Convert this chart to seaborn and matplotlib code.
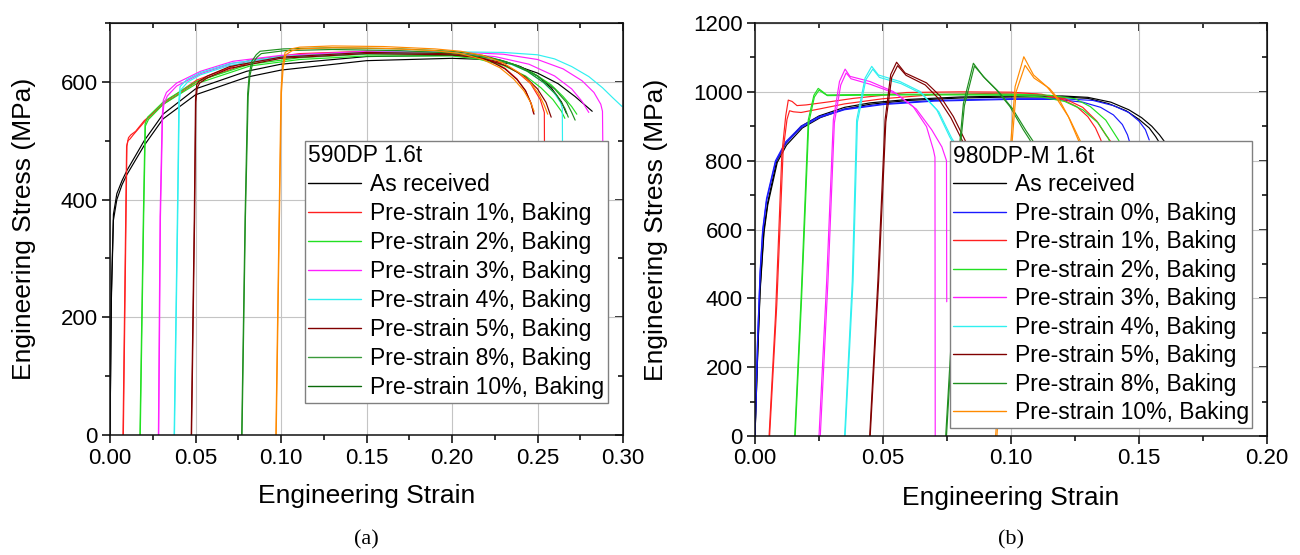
import numpy as np
import pandas as pd
import matplotlib
matplotlib.use("Agg")
import matplotlib.pyplot as plt
import seaborn as sns
from matplotlib.lines import Line2D
from matplotlib.ticker import MultipleLocator, FormatStrFormatter

# ---------------- Panel (a): 590DP 1.6t ----------------
A_TITLE = "590DP 1.6t"
A_LABELS = ["As received", "Pre-strain 1%, Baking", "Pre-strain 2%, Baking",
            "Pre-strain 3%, Baking", "Pre-strain 4%, Baking", "Pre-strain 5%, Baking",
            "Pre-strain 8%, Baking", "Pre-strain 10%, Baking"]

A_RECV_X = [[0, 0.0008, 0.002, 0.004, 0.007, 0.010, 0.020, 0.031, 0.050, 0.080, 0.100, 0.150, 0.200, 0.215, 0.228, 0.240, 0.250, 0.258, 0.264, 0.267],
            [0, 0.0008, 0.002, 0.004, 0.007, 0.010, 0.020, 0.031, 0.050, 0.080, 0.100, 0.150, 0.200, 0.220, 0.235, 0.250, 0.262, 0.272, 0.278, 0.282]]
A_RECV_Y = [[0, 240, 375, 410, 432, 450, 500, 545, 588, 618, 630, 643, 645, 643, 637, 626, 610, 590, 566, 546],
            [0, 230, 365, 400, 425, 443, 492, 537, 578, 608, 620, 636, 640, 638, 630, 615, 597, 575, 560, 550]]

A_PS1_X = [[0.0076, 0.0097, 0.0105, 0.0117, 0.0136, 0.0195, 0.0312, 0.0507, 0.0819, 0.111, 0.150, 0.200, 0.212, 0.222, 0.231, 0.238, 0.243, 0.2465, 0.2477],
           [0.0078, 0.0099, 0.0108, 0.0122, 0.0150, 0.0200, 0.0312, 0.0507, 0.0819, 0.111, 0.150, 0.200, 0.215, 0.228, 0.238, 0.246, 0.2516, 0.2540, 0.2542]]
A_PS1_Y = [[0, 490, 500, 503, 510, 530, 564, 603, 637, 648, 652, 649, 645, 637, 623, 605, 585, 562, 546],
           [0, 492, 505, 510, 516, 534, 562, 600, 633, 645, 650, 647, 642, 632, 617, 597, 570, 548, 400]]

A_PS2_X = [[0.0175, 0.0195, 0.0205, 0.0220, 0.0312, 0.0507, 0.0819, 0.111, 0.150, 0.200, 0.220, 0.235, 0.248, 0.258, 0.265, 0.270, 0.273],
           [0.0177, 0.0197, 0.0207, 0.0225, 0.0312, 0.0507, 0.0819, 0.111, 0.150, 0.200, 0.215, 0.230, 0.243, 0.252, 0.259, 0.264, 0.266]]
A_PS2_Y = [[0, 371, 528, 540, 566, 601, 630, 641, 647, 647, 641, 631, 614, 595, 575, 558, 545],
           [0, 371, 525, 536, 562, 597, 627, 638, 644, 644, 639, 628, 610, 590, 570, 550, 538]]

A_PS3_X = [[0.0283, 0.0293, 0.0305, 0.0312, 0.0330, 0.0390, 0.0530, 0.0720, 0.100, 0.150, 0.200, 0.230, 0.250, 0.265, 0.276, 0.283, 0.2870, 0.2880, 0.2885],
           [0.0285, 0.0295, 0.0307, 0.0315, 0.0335, 0.0390, 0.0530, 0.0720, 0.100, 0.150, 0.200, 0.225, 0.245, 0.260, 0.270, 0.276, 0.280]]
A_PS3_Y = [[0, 371, 540, 569, 582, 598, 618, 635, 645, 652, 651, 647, 638, 622, 602, 582, 562, 550, 400],
           [0, 371, 535, 562, 576, 593, 614, 632, 642, 649, 648, 643, 630, 610, 588, 567, 548]]

A_PS4_X = [[0.0375, 0.0394, 0.0403, 0.0410, 0.0450, 0.0530, 0.0700, 0.100, 0.150, 0.200, 0.230, 0.250, 0.260, 0.270, 0.280, 0.288, 0.294, 0.2995],
           [0.0377, 0.0396, 0.0405, 0.0413, 0.0455, 0.0530, 0.0700, 0.100, 0.150, 0.200, 0.218, 0.232, 0.244, 0.253, 0.2595, 0.2635, 0.2645, 0.2648]]
A_PS4_Y = [[0, 371, 570, 592, 604, 616, 631, 643, 650, 651, 650, 646, 639, 626, 609, 590, 573, 558],
           [0, 371, 565, 586, 600, 612, 628, 641, 648, 648, 643, 633, 618, 600, 582, 565, 555, 400]]

A_PS5_X = [[0.0475, 0.0493, 0.0500, 0.0507, 0.0520, 0.0570, 0.0700, 0.100, 0.150, 0.200, 0.212, 0.222, 0.231, 0.238, 0.243, 0.246, 0.248],
           [0.0477, 0.0495, 0.0502, 0.0510, 0.0525, 0.0570, 0.0700, 0.100, 0.150, 0.200, 0.218, 0.232, 0.243, 0.250, 0.255, 0.258]]
A_PS5_Y = [[0, 371, 570, 595, 601, 610, 626, 642, 650, 648, 644, 636, 622, 604, 585, 565, 545],
           [0, 371, 566, 590, 598, 607, 623, 640, 648, 646, 640, 627, 608, 588, 565, 540]]

A_PS8_X = [[0.0770, 0.0790, 0.0805, 0.0815, 0.0829, 0.0855, 0.0878, 0.1014, 0.130, 0.170, 0.200, 0.218, 0.232, 0.244, 0.254, 0.261, 0.266, 0.268],
           [0.0772, 0.0792, 0.0808, 0.0818, 0.0833, 0.0860, 0.0885, 0.1020, 0.130, 0.170, 0.200, 0.222, 0.238, 0.250, 0.260, 0.267, 0.270, 0.272]]
A_PS8_Y = [[0, 371, 580, 615, 635, 646, 652, 656, 658, 656, 652, 645, 634, 618, 598, 578, 555, 540],
           [0, 371, 575, 610, 630, 642, 648, 653, 655, 653, 649, 641, 628, 610, 588, 565, 548, 535]]

A_PS10_X = [[0.0970, 0.0989, 0.1000, 0.1010, 0.1024, 0.1060, 0.1110, 0.130, 0.160, 0.190, 0.205, 0.218, 0.230, 0.239, 0.246, 0.251, 0.254, 0.256],
            [0.0972, 0.0991, 0.1002, 0.1013, 0.1028, 0.1065, 0.1115, 0.130, 0.160, 0.190, 0.205, 0.218, 0.228, 0.236, 0.242, 0.246, 0.248]]
A_PS10_Y = [[0, 371, 585, 630, 650, 656, 659, 661, 660, 656, 652, 645, 632, 616, 598, 578, 560, 545],
            [0, 371, 580, 625, 646, 653, 656, 658, 657, 653, 648, 638, 624, 605, 585, 565, 550]]

# ---------------- Panel (b): 980DP-M 1.6t ----------------
B_TITLE = "980DP-M 1.6t"
B_LABELS = ["As received", "Pre-strain 0%, Baking", "Pre-strain 1%, Baking",
            "Pre-strain 2%, Baking", "Pre-strain 3%, Baking", "Pre-strain 4%, Baking",
            "Pre-strain 5%, Baking", "Pre-strain 8%, Baking", "Pre-strain 10%, Baking"]

B_RECV_X = [[0, 0.001, 0.002, 0.0035, 0.005, 0.0085, 0.012, 0.018, 0.025, 0.035, 0.045, 0.060, 0.080, 0.100, 0.120, 0.130, 0.139, 0.146, 0.151, 0.155, 0.158, 0.160],
            [0, 0.001, 0.002, 0.0035, 0.005, 0.0087, 0.0123, 0.0185, 0.0255, 0.035, 0.045, 0.060, 0.080, 0.100, 0.120, 0.130, 0.138, 0.145, 0.150, 0.154, 0.1565, 0.158]]
B_RECV_Y = [[0, 230, 430, 600, 680, 800, 850, 900, 930, 955, 968, 978, 985, 988, 988, 984, 970, 948, 925, 900, 875, 855],
            [0, 225, 420, 590, 672, 795, 845, 895, 925, 950, 964, 975, 982, 985, 985, 981, 966, 945, 920, 895, 870, 852]]

B_PS0_X = [[0, 0.001, 0.002, 0.003, 0.0045, 0.008, 0.012, 0.018, 0.025, 0.035, 0.050, 0.070, 0.100, 0.120, 0.132, 0.140, 0.146, 0.150, 0.1525, 0.154],
           [0, 0.001, 0.002, 0.003, 0.0045, 0.008, 0.012, 0.018, 0.025, 0.035, 0.050, 0.070, 0.100, 0.118, 0.128, 0.135, 0.140, 0.1435, 0.1455, 0.1465]]
B_PS0_Y = [[0, 280, 480, 600, 690, 800, 855, 900, 928, 950, 965, 975, 980, 980, 975, 960, 940, 915, 890, 860],
           [0, 275, 470, 592, 682, 795, 850, 896, 925, 948, 963, 973, 978, 978, 970, 955, 933, 905, 875, 850]]

B_PS1_X = [[0.0055, 0.0080, 0.0105, 0.0120, 0.0130, 0.0145, 0.0164, 0.020, 0.030, 0.0384, 0.050, 0.0592, 0.080, 0.100, 0.112, 0.120, 0.1257, 0.130, 0.133, 0.135, 0.136],
           [0.0057, 0.0085, 0.0110, 0.0125, 0.0135, 0.0150, 0.0180, 0.025, 0.035, 0.050, 0.070, 0.090, 0.110, 0.121, 0.128, 0.1335, 0.1370, 0.1395]]
B_PS1_Y = [[0, 350, 821, 930, 976, 972, 960, 962, 972, 981, 990, 998, 1000, 999, 993, 978, 957, 928, 895, 862, 840],
           [0, 380, 830, 920, 945, 942, 940, 950, 965, 980, 992, 995, 993, 980, 955, 915, 875, 850]]

B_PS2_X = [[0.0155, 0.0180, 0.0208, 0.0230, 0.0247, 0.0265, 0.0280, 0.040, 0.060, 0.080, 0.100, 0.115, 0.125, 0.131, 0.137, 0.142, 0.143],
           [0.0157, 0.0182, 0.0210, 0.0232, 0.0250, 0.0268, 0.0283, 0.040, 0.060, 0.080, 0.100, 0.112, 0.121, 0.128, 0.134, 0.138, 0.139]]
B_PS2_Y = [[0, 400, 918, 990, 1010, 1000, 991, 992, 993, 993, 993, 990, 980, 957, 918, 860, 845],
           [0, 400, 910, 985, 1005, 996, 989, 990, 991, 991, 990, 985, 972, 948, 910, 865, 848]]

B_PS3_X = [[0.0250, 0.0280, 0.0306, 0.0330, 0.0352, 0.0371, 0.0449, 0.0540, 0.0618, 0.0670, 0.0697, 0.0703, 0.0704],
           [0.0255, 0.0285, 0.0310, 0.0335, 0.0356, 0.0375, 0.0450, 0.0550, 0.0630, 0.0690, 0.0730, 0.0748, 0.0749]]
B_PS3_Y = [[0, 450, 918, 1030, 1066, 1045, 1030, 1001, 957, 899, 831, 810, 0],
           [0, 450, 910, 1020, 1055, 1038, 1022, 995, 950, 890, 840, 800, 390]]

B_PS4_X = [[0.0350, 0.0380, 0.0397, 0.0430, 0.0456, 0.0482, 0.0566, 0.0645, 0.0710, 0.0760, 0.0790],
           [0.0352, 0.0383, 0.0400, 0.0433, 0.0460, 0.0486, 0.0570, 0.0650, 0.0718, 0.0768, 0.0800]]
B_PS4_Y = [[0, 450, 918, 1040, 1074, 1049, 1030, 1001, 948, 870, 830],
           [0, 450, 912, 1035, 1066, 1042, 1024, 995, 942, 866, 828]]

B_PS5_X = [[0.0448, 0.0480, 0.0508, 0.0530, 0.0553, 0.0586, 0.0670, 0.0723, 0.0775, 0.0820, 0.0860],
           [0.0450, 0.0483, 0.0511, 0.0534, 0.0557, 0.0590, 0.0665, 0.0715, 0.0765, 0.0810, 0.0850]]
B_PS5_Y = [[0, 450, 918, 1050, 1086, 1055, 1026, 988, 928, 860, 800],
           [0, 450, 912, 1042, 1076, 1048, 1020, 982, 925, 858, 800]]

B_PS8_X = [[0.0745, 0.0780, 0.0801, 0.0814, 0.0853, 0.0892, 0.0944, 0.0996, 0.1048, 0.1074, 0.1090],
           [0.0748, 0.0783, 0.0804, 0.0818, 0.0857, 0.0898, 0.0952, 0.1005, 0.1058, 0.1085, 0.1100]]
B_PS8_Y = [[0, 450, 860, 966, 1083, 1044, 1005, 957, 890, 860, 830],
           [0, 450, 855, 960, 1075, 1040, 1000, 952, 888, 858, 830]]

B_PS10_X = [[0.0940, 0.0980, 0.1000, 0.1016, 0.1050, 0.1088, 0.1140, 0.1178, 0.1224, 0.1263, 0.1280],
            [0.0945, 0.0985, 0.1005, 0.1020, 0.1055, 0.1090, 0.1150, 0.1190, 0.1230, 0.1270, 0.1285]]
B_PS10_Y = [[0, 450, 860, 1015, 1102, 1049, 1015, 981, 928, 860, 830],
            [0, 450, 860, 1000, 1077, 1040, 1010, 975, 920, 858, 830]]

# ---------------- styling ----------------
sns.set_style("white")
plt.rcParams["font.family"] = ["Liberation Sans", "DejaVu Sans"]
plt.rcParams["text.color"] = "black"
plt.rcParams["axes.labelcolor"] = "black"
plt.rcParams["xtick.color"] = "black"
plt.rcParams["ytick.color"] = "black"

C_BLACK, C_BLUE, C_RED, C_GREEN = "#000000", "#1a1aff", "#ff2020", "#22e022"
C_MAG, C_CYAN, C_WINE, C_DKGREEN = "#ff20ff", "#30f0f0", "#800000", "#1f8f1f"
C_ORANGE, C_DKGREEN2 = "#ff8a00", "#0a6a0a"

fig = plt.figure(figsize=(13, 5.55), dpi=100)
axA = fig.add_axes([110 / 1300, 1 - 435 / 555, 513 / 1300, 412 / 555])
axB = fig.add_axes([755 / 1300, 1 - 436 / 555, 512 / 1300, 413 / 555])


def draw(ax, xs_list, ys_list, color):
    for xs, ys in zip(xs_list, ys_list):
        df = pd.DataFrame({"strain": xs, "stress": ys})
        sns.lineplot(data=df, x="strain", y="stress", ax=ax, color=color,
                     lw=0.85, sort=False, estimator=None, legend=False)


draw(axA, A_RECV_X, A_RECV_Y, C_BLACK)
draw(axA, A_PS1_X, A_PS1_Y, C_RED)
draw(axA, A_PS2_X, A_PS2_Y, C_GREEN)
draw(axA, A_PS3_X, A_PS3_Y, C_MAG)
draw(axA, A_PS4_X, A_PS4_Y, C_CYAN)
draw(axA, A_PS5_X, A_PS5_Y, C_WINE)
draw(axA, A_PS8_X, A_PS8_Y, C_DKGREEN)
draw(axA, A_PS10_X, A_PS10_Y, C_ORANGE)

draw(axB, B_RECV_X, B_RECV_Y, C_BLACK)
draw(axB, B_PS0_X, B_PS0_Y, C_BLUE)
draw(axB, B_PS1_X, B_PS1_Y, C_RED)
draw(axB, B_PS2_X, B_PS2_Y, C_GREEN)
draw(axB, B_PS3_X, B_PS3_Y, C_MAG)
draw(axB, B_PS4_X, B_PS4_Y, C_CYAN)
draw(axB, B_PS5_X, B_PS5_Y, C_WINE)
draw(axB, B_PS8_X, B_PS8_Y, C_DKGREEN)
draw(axB, B_PS10_X, B_PS10_Y, C_ORANGE)

A_HANDLE_COLORS = [C_BLACK, C_RED, C_GREEN, C_MAG, C_CYAN, C_WINE, "#3a9a3a", C_DKGREEN2]
B_HANDLE_COLORS = [C_BLACK, C_BLUE, C_RED, C_GREEN, C_MAG, C_CYAN, C_WINE, C_DKGREEN, C_ORANGE]


def style_axes(ax, xmax, ymax, ymaj, label_x):
    ax.set_xlim(0, xmax)
    ax.set_ylim(0, ymax)
    ax.xaxis.set_major_locator(MultipleLocator(0.05))
    ax.xaxis.set_minor_locator(MultipleLocator(0.025))
    ax.yaxis.set_major_locator(MultipleLocator(ymaj))
    ax.yaxis.set_minor_locator(MultipleLocator(ymaj / 2))
    ax.xaxis.set_major_formatter(FormatStrFormatter("%.2f"))
    ax.yaxis.set_major_formatter(FormatStrFormatter("%d"))
    ax.grid(True, which="major", color="#c4c4c4", lw=0.8)
    ax.set_axisbelow(True)
    for s in ax.spines.values():
        s.set_color("#111111")
        s.set_linewidth(1.1)
        s.set_visible(True)
    ax.tick_params(which="both", direction="out", width=1.1, colors="black",
                   labelsize=16, pad=3, bottom=True, left=True)
    ax.tick_params(which="major", length=6)
    ax.tick_params(which="minor", length=3.5)
    ax.set_xlabel("Engineering Strain", fontsize=19)
    ax.set_ylabel("Engineering Stress (MPa)", fontsize=19)
    ax.xaxis.set_label_coords(0.5, -0.12)
    ax.yaxis.set_label_coords(label_x, 0.5)
    secx = ax.secondary_xaxis("top")
    secx.xaxis.set_major_locator(MultipleLocator(0.05))
    secx.xaxis.set_minor_locator(MultipleLocator(0.025))
    secx.tick_params(which="both", direction="in", width=1.1, labeltop=False)
    secx.tick_params(which="major", length=6)
    secx.tick_params(which="minor", length=3.5)
    secy = ax.secondary_yaxis("right")
    secy.yaxis.set_major_locator(MultipleLocator(ymaj))
    secy.yaxis.set_minor_locator(MultipleLocator(ymaj / 2))
    secy.tick_params(which="both", direction="in", width=1.1, labelright=False)
    secy.tick_params(which="major", length=6)
    secy.tick_params(which="minor", length=3.5)


style_axes(axA, 0.30, 700, 200, -0.144)
style_axes(axB, 0.20, 1200, 200, -0.170)


def add_legend(ax, labels, colors, title, spacing):
    handles = [Line2D([0], [0], color=c, lw=1.0) for c in colors]
    leg = ax.legend(handles, labels, title=title, loc="upper left",
                    bbox_to_anchor=(0.38, 0.7136), borderaxespad=0,
                    fontsize=16.5, title_fontsize=16.5, frameon=True,
                    fancybox=False, edgecolor="#808080", framealpha=1,
                    borderpad=0.15, labelspacing=spacing, handlelength=2.3,
                    handletextpad=0.4, alignment="left")
    leg.get_frame().set_linewidth(1.0)
    return leg


add_legend(axA, A_LABELS, A_HANDLE_COLORS, A_TITLE, 0.26)
add_legend(axB, B_LABELS, B_HANDLE_COLORS, B_TITLE, 0.24)

fig.text(366 / 1300, 1 - 540 / 555, "(a)", ha="center", va="center",
         family=["Liberation Serif", "DejaVu Serif"], fontsize=16)
fig.text(1011 / 1300, 1 - 540 / 555, "(b)", ha="center", va="center",
         family=["Liberation Serif", "DejaVu Serif"], fontsize=16)

fig.savefig("out.png", dpi=100)
